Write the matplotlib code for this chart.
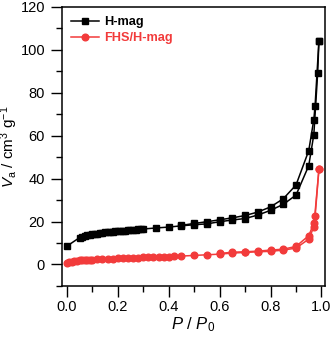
import matplotlib
matplotlib.use("Agg")
import matplotlib.pyplot as plt
from matplotlib.ticker import MultipleLocator

plt.rcParams['font.family'] = ['Liberation Sans', 'DejaVu Sans']
plt.rcParams['mathtext.fontset'] = 'custom'
plt.rcParams['mathtext.rm'] = 'Liberation Sans'
plt.rcParams['mathtext.it'] = 'Liberation Sans:italic'
plt.rcParams['mathtext.bf'] = 'Liberation Sans:bold'

# H-mag adsorption branch
hmag_ads_x = [0.00, 0.05, 0.06, 0.07, 0.08, 0.09, 0.10, 0.11, 0.12, 0.13, 0.14, 0.15,
              0.16, 0.17, 0.18, 0.19, 0.20, 0.21, 0.22, 0.23, 0.24, 0.25, 0.26, 0.27,
              0.28, 0.29, 0.30, 0.35, 0.40, 0.45, 0.50, 0.55, 0.60, 0.65, 0.70, 0.75,
              0.80, 0.85, 0.90, 0.95, 0.97, 0.985, 0.99]
hmag_ads_y = [8.5, 12.5, 13.0, 13.3, 13.5, 13.8, 14.0, 14.2, 14.4, 14.5, 14.7, 14.9,
              15.0, 15.1, 15.3, 15.4, 15.5, 15.6, 15.7, 15.8, 15.9, 16.0, 16.1, 16.2,
              16.3, 16.4, 16.5, 17.0, 17.4, 18.0, 18.5, 18.9, 19.9, 20.7, 21.4, 23.0,
              25.2, 28.0, 32.3, 46.0, 60.5, 89.0, 104.0]
# H-mag desorption branch
hmag_des_x = [0.99, 0.975, 0.97, 0.95, 0.90, 0.85, 0.80, 0.75, 0.70, 0.65, 0.60, 0.55, 0.50, 0.45]
hmag_des_y = [104.0, 74.0, 67.5, 53.0, 37.0, 30.6, 26.8, 24.4, 22.8, 21.7, 20.8, 19.9, 19.1, 18.2]

# FHS/H-mag adsorption branch
fhs_ads_x = [0.00, 0.01, 0.02, 0.03, 0.04, 0.05, 0.06, 0.07, 0.08, 0.09, 0.10, 0.12,
             0.14, 0.16, 0.18, 0.20, 0.22, 0.24, 0.26, 0.28, 0.30, 0.32, 0.34, 0.36,
             0.38, 0.40, 0.42, 0.45, 0.50, 0.55, 0.60, 0.65, 0.70, 0.75, 0.80, 0.85,
             0.90, 0.95, 0.97, 0.99]
fhs_ads_y = [0.8, 1.1, 1.3, 1.5, 1.7, 1.9, 2.0, 2.1, 2.2, 2.25, 2.3, 2.4,
             2.5, 2.6, 2.7, 2.8, 2.9, 3.0, 3.1, 3.2, 3.3, 3.4, 3.45, 3.5,
             3.6, 3.7, 3.8, 3.9, 4.2, 4.5, 4.8, 5.3, 5.6, 5.9, 6.1, 6.7,
             7.6, 11.8, 17.5, 44.3]
# FHS/H-mag desorption branch
fhs_des_x = [0.99, 0.975, 0.97, 0.95, 0.90, 0.85, 0.80, 0.75, 0.70, 0.65, 0.60]
fhs_des_y = [44.3, 22.4, 19.1, 13.4, 8.4, 7.1, 6.7, 6.2, 5.9, 5.7, 5.1]

series_labels = ['H-mag', 'FHS/H-mag']
x_ticks = [0.0, 0.2, 0.4, 0.6, 0.8, 1.0]
y_ticks = [0, 20, 40, 60, 80, 100, 120]

black = '#000000'
red = '#f23b3b'

fig = plt.figure(figsize=(3.32, 3.42), dpi=100)
ax = fig.add_axes([0.186, 0.164, 0.793, 0.816])

lw = 1.1
l1, = ax.plot(hmag_ads_x, hmag_ads_y, '-s', color=black, ms=4.2, lw=lw, label=series_labels[0])
ax.plot(hmag_des_x, hmag_des_y, '-s', color=black, ms=4.2, lw=lw)
l2, = ax.plot(fhs_ads_x, fhs_ads_y, '-o', color=red, ms=4.8, lw=lw, label=series_labels[1])
ax.plot(fhs_des_x, fhs_des_y, '-o', color=red, ms=4.8, lw=lw)

ax.set_xlim(-0.02, 1.014)
ax.set_ylim(-10, 120)
ax.set_xticks(x_ticks)
ax.set_xticklabels([f'{v:.1f}' for v in x_ticks])
ax.set_yticks(y_ticks)
ax.xaxis.set_minor_locator(MultipleLocator(0.1))
ax.yaxis.set_minor_locator(MultipleLocator(10))
ax.tick_params(which='major', direction='out', length=8, width=1.0, labelsize=10.5,
               top=False, right=False)
ax.tick_params(axis='x', which='major', pad=2)
ax.tick_params(axis='y', which='major', pad=4)
ax.tick_params(which='minor', direction='out', length=4, width=1.0, top=False, right=False)
for s in ax.spines.values():
    s.set_linewidth(1.1)

ax.set_xlabel('$P$ / $P_0$', fontsize=12, labelpad=1)
ax.set_ylabel('$V_{\\rm a}$ / cm$^3$ g$^{-1}$', fontsize=11)
ax.yaxis.set_label_coords(-0.158, 0.5)

leg = ax.legend(handles=[l1, l2], loc='upper left', bbox_to_anchor=(0.0, 1.0),
                frameon=False, handlelength=2.2, handletextpad=0.35, labelspacing=0.3,
                prop={'weight': 'bold', 'size': 9.2}, borderaxespad=0.35)
for t, c in zip(leg.get_texts(), [black, red]):
    t.set_color(c)

fig.savefig('out.png', dpi=100)
